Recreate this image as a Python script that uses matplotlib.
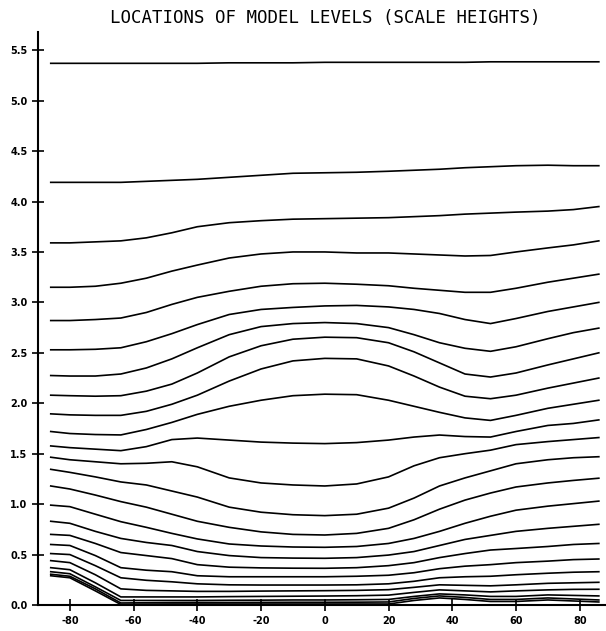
import matplotlib
matplotlib.use("Agg")
import matplotlib.pyplot as plt

plt.rcParams['axes.unicode_minus'] = False

# latitude grid (deg) shared by every model level
lat = [-86, -80, -72, -64, -56, -48, -40, -30, -20, -10, 0,
       10, 20, 28, 36, 44, 52, 60, 70, 78, 86]

# level heights (scale heights), top level first
lev01 = [5.37, 5.37, 5.37, 5.37, 5.37, 5.37, 5.37, 5.375, 5.375, 5.375, 5.38,
         5.38, 5.38, 5.38, 5.38, 5.38, 5.385, 5.385, 5.385, 5.385, 5.385]
lev02 = [4.19, 4.19, 4.19, 4.19, 4.20, 4.21, 4.22, 4.24, 4.26, 4.28, 4.285,
         4.29, 4.30, 4.31, 4.32, 4.335, 4.345, 4.355, 4.36, 4.355, 4.355]
lev03 = [3.59, 3.59, 3.60, 3.61, 3.64, 3.69, 3.75, 3.79, 3.81, 3.825, 3.83,
         3.835, 3.84, 3.85, 3.86, 3.875, 3.885, 3.895, 3.905, 3.92, 3.95]
lev04 = [3.15, 3.15, 3.16, 3.19, 3.24, 3.31, 3.37, 3.44, 3.48, 3.50, 3.50,
         3.49, 3.49, 3.48, 3.47, 3.46, 3.465, 3.50, 3.54, 3.57, 3.61]
lev05 = [2.82, 2.82, 2.83, 2.845, 2.90, 2.98, 3.05, 3.11, 3.16, 3.185, 3.19,
         3.18, 3.165, 3.14, 3.12, 3.10, 3.10, 3.14, 3.20, 3.24, 3.28]
lev06 = [2.53, 2.53, 2.535, 2.55, 2.61, 2.69, 2.78, 2.88, 2.93, 2.95, 2.965,
         2.97, 2.955, 2.93, 2.89, 2.83, 2.79, 2.84, 2.91, 2.955, 3.00]
lev07 = [2.275, 2.27, 2.27, 2.29, 2.35, 2.44, 2.55, 2.68, 2.76, 2.79, 2.80,
         2.79, 2.75, 2.68, 2.60, 2.545, 2.515, 2.56, 2.64, 2.70, 2.745]
lev08 = [2.08, 2.075, 2.07, 2.075, 2.12, 2.19, 2.30, 2.46, 2.57, 2.635, 2.655,
         2.65, 2.60, 2.51, 2.40, 2.29, 2.26, 2.30, 2.38, 2.44, 2.50]
lev09 = [1.895, 1.885, 1.88, 1.88, 1.92, 1.99, 2.08, 2.22, 2.34, 2.42, 2.445,
         2.44, 2.37, 2.27, 2.16, 2.07, 2.045, 2.08, 2.15, 2.20, 2.25]
lev10 = [1.72, 1.70, 1.69, 1.686, 1.74, 1.81, 1.89, 1.97, 2.03, 2.075, 2.09,
         2.085, 2.03, 1.97, 1.91, 1.855, 1.83, 1.88, 1.95, 1.99, 2.03]
lev11 = [1.577, 1.56, 1.545, 1.53, 1.57, 1.64, 1.655, 1.635, 1.615, 1.605, 1.60,
         1.61, 1.635, 1.665, 1.685, 1.67, 1.665, 1.72, 1.78, 1.80, 1.835]
lev12 = [1.465, 1.44, 1.42, 1.40, 1.405, 1.42, 1.37, 1.26, 1.21, 1.19, 1.18,
         1.20, 1.27, 1.38, 1.46, 1.50, 1.535, 1.59, 1.62, 1.64, 1.66]
lev13 = [1.345, 1.315, 1.27, 1.22, 1.19, 1.13, 1.07, 0.97, 0.92, 0.895, 0.886,
         0.90, 0.96, 1.06, 1.18, 1.26, 1.33, 1.40, 1.44, 1.46, 1.47]
lev14 = [1.18, 1.15, 1.09, 1.025, 0.97, 0.90, 0.83, 0.77, 0.725, 0.70, 0.694,
         0.71, 0.76, 0.845, 0.95, 1.04, 1.11, 1.17, 1.21, 1.235, 1.257]
lev15 = [0.99, 0.975, 0.90, 0.826, 0.77, 0.71, 0.655, 0.605, 0.585, 0.575, 0.572,
         0.58, 0.61, 0.66, 0.73, 0.81, 0.88, 0.94, 0.98, 1.005, 1.03]
lev16 = [0.83, 0.81, 0.73, 0.66, 0.62, 0.59, 0.53, 0.49, 0.47, 0.465, 0.463,
         0.47, 0.495, 0.53, 0.59, 0.65, 0.69, 0.73, 0.76, 0.78, 0.80]
lev17 = [0.70, 0.69, 0.61, 0.52, 0.49, 0.46, 0.40, 0.375, 0.368, 0.365, 0.364,
         0.37, 0.39, 0.42, 0.47, 0.51, 0.545, 0.56, 0.58, 0.60, 0.61]
lev18 = [0.60, 0.59, 0.49, 0.37, 0.345, 0.33, 0.29, 0.28, 0.28, 0.28, 0.28,
         0.285, 0.295, 0.32, 0.36, 0.385, 0.40, 0.42, 0.435, 0.45, 0.456]
lev19 = [0.51, 0.50, 0.39, 0.27, 0.245, 0.23, 0.21, 0.20, 0.198, 0.198, 0.198,
         0.20, 0.21, 0.235, 0.27, 0.28, 0.285, 0.30, 0.315, 0.325, 0.33]
lev20 = [0.44, 0.42, 0.30, 0.16, 0.145, 0.14, 0.135, 0.135, 0.138, 0.14, 0.142,
         0.145, 0.152, 0.175, 0.20, 0.195, 0.19, 0.20, 0.215, 0.22, 0.225]
lev21 = [0.37, 0.35, 0.22, 0.08, 0.08, 0.08, 0.08, 0.083, 0.085, 0.087, 0.089,
         0.092, 0.098, 0.125, 0.15, 0.14, 0.13, 0.14, 0.15, 0.155, 0.156]
lev22 = [0.33, 0.31, 0.18, 0.045, 0.045, 0.045, 0.045, 0.047, 0.048, 0.05, 0.05,
         0.052, 0.055, 0.085, 0.11, 0.10, 0.085, 0.085, 0.10, 0.095, 0.09]
lev23 = [0.305, 0.285, 0.16, 0.02, 0.022, 0.024, 0.025, 0.025, 0.026, 0.027, 0.027,
         0.028, 0.03, 0.065, 0.09, 0.075, 0.055, 0.055, 0.07, 0.06, 0.05]
lev24 = [0.29, 0.27, 0.14, 0.005, 0.008, 0.01, 0.01, 0.01, 0.01, 0.01, 0.01,
         0.01, 0.01, 0.045, 0.07, 0.055, 0.035, 0.035, 0.05, 0.04, 0.03]

levels = [lev01, lev02, lev03, lev04, lev05, lev06, lev07, lev08, lev09, lev10,
          lev11, lev12, lev13, lev14, lev15, lev16, lev17, lev18, lev19, lev20,
          lev21, lev22, lev23, lev24]

xticks = [-80, -60, -40, -20, 0, 20, 40, 60, 80]
yticks = [0.0, 0.5, 1.0, 1.5, 2.0, 2.5, 3.0, 3.5, 4.0, 4.5, 5.0, 5.5]

fig = plt.figure(figsize=(6.06, 6.31), dpi=100)
ax = fig.add_axes([0.0627, 0.0412, 0.936, 0.908])

for lev in levels:
    ax.plot(lat, lev, color='black', linewidth=1.2, solid_joinstyle='round')

ax.set_xlim(-90, 88)
ax.set_ylim(0, 5.68)
ax.set_xticks(xticks)
ax.set_yticks(yticks)
ax.set_xticklabels([str(t) for t in xticks], fontsize=7, fontweight='bold')
ax.set_yticklabels([f'{t:.1f}' for t in yticks], fontsize=7, fontweight='bold')
ax.tick_params(direction='inout', length=9, width=1.2, pad=3)
ax.tick_params(axis='x', pad=3.5)

for side in ['top', 'right']:
    ax.spines[side].set_visible(False)
for side in ['left', 'bottom']:
    ax.spines[side].set_linewidth(1.5)

fig.text(0.536, 0.971, 'LOCATIONS OF MODEL LEVELS (SCALE HEIGHTS)',
         ha='center', va='center', fontsize=12.5, family='DejaVu Sans Mono')

plt.savefig('out.png', dpi=100)
